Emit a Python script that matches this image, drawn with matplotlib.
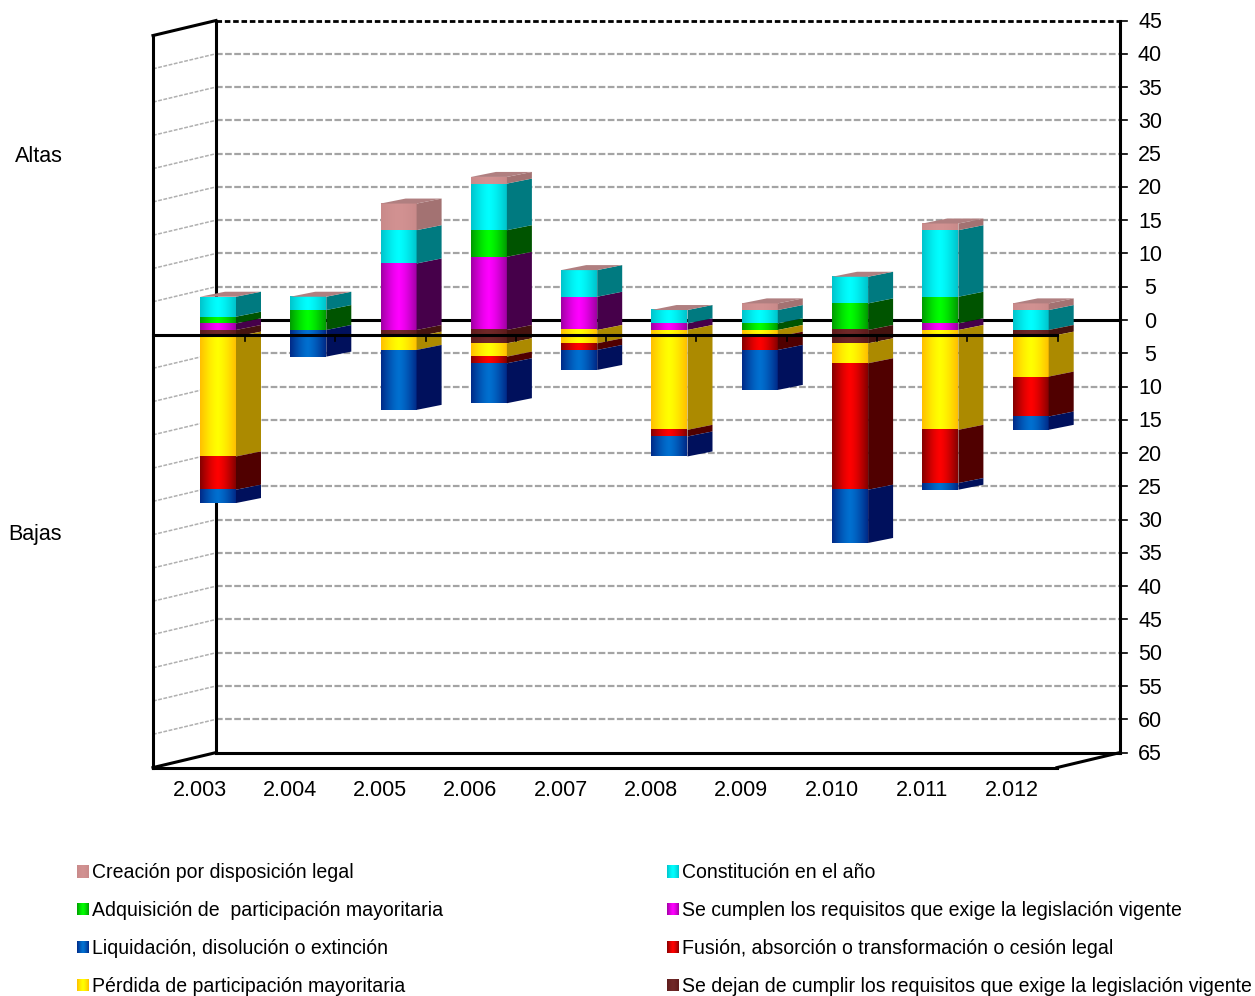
import numpy as np
import matplotlib
matplotlib.use("Agg")
import matplotlib.pyplot as plt
from matplotlib.patches import Polygon

plt.rcParams['font.family'] = ['Liberation Sans', 'DejaVu Sans']

years = ['2.003', '2.004', '2.005', '2.006', '2.007', '2.008', '2.009', '2.010', '2.011', '2.012']

# altas, stacked upward from zero
cumplen = [1, 0, 10, 11, 5, 1, 0, 0, 1, 0]
adquisicion = [1, 3, 0, 4, 0, 0, 1, 4, 4, 0]
constitucion = [3, 2, 5, 7, 4, 2, 2, 4, 10, 3]
creacion = [0, 0, 4, 1, 0, 0, 1, 0, 1, 1]

# bajas, stacked downward from zero
dejan = [1, 0, 1, 2, 0, 0, 0, 2, 0, 1]
perdida = [18, 0, 2, 2, 2, 15, 1, 3, 15, 6]
fusion = [5, 0, 0, 1, 1, 1, 2, 19, 8, 6]
liquidacion = [2, 4, 9, 6, 3, 3, 6, 8, 1, 2]

axis_ticks = [45, 40, 35, 30, 25, 20, 15, 10, 5, 0, 5, 10, 15, 20, 25, 30, 35, 40, 45, 50, 55, 60, 65]

# edge, centre and side colours of the fake 3d bars
PINK = ('#c98a8a', '#d29292', '#a37272')
CYAN = ('#00c4cc', '#00ffff', '#007a80')
GREEN = ('#009c00', '#00ff00', '#005400')
MAGENTA = ('#a000a4', '#ff00ff', '#46004a')
BROWN = ('#5e1c1c', '#702828', '#45130f')
YELLOW = ('#ffc000', '#ffff00', '#ac8a00')
RED = ('#860000', '#ff0000', '#500000')
BLUE = ('#002a88', '#0070d0', '#00105c')

up = [(cumplen, MAGENTA), (adquisicion, GREEN), (constitucion, CYAN), (creacion, PINK)]
down = [(dejan, BROWN), (perdida, YELLOW), (fusion, RED), (liquidacion, BLUE)]

W, H = 1255, 996
STEP_X = 90.3   # pixels between bars
UNIT = 6.655    # pixels per value unit
X0, Y0 = 200, 330


def dx(px):
    return px / STEP_X


def dy(px):
    return px / UNIT


def to_x(px):
    return (px - X0) / STEP_X


def to_y(py):
    return (Y0 - py) / UNIT


fig = plt.figure(figsize=(W / 100, H / 100), dpi=100)
ax = fig.add_axes([0, 0, 1, 1])
ax.axis('off')


def gradient_rect(x0, x1, y0, y1, colors, zorder):
    c = np.array([matplotlib.colors.to_rgb(k) for k in colors])
    t = np.abs(np.linspace(-1, 1, 40)) ** 1.4
    img = c[1] * (1 - t[:, None]) + c[0] * t[:, None]
    ax.imshow(img[None, :, :], extent=[x0, x1, y0, y1], aspect='auto',
              interpolation='bilinear', zorder=zorder)


# walls
back_l, back_r = to_x(216), to_x(1120)
front_l, front_r = to_x(153), to_x(1057)
back_off = dy(10)    # back wall sits above the bar front plane
front_off = dy(-5)
val_back = np.array([45, 40, 35, 30, 25, 20, 15, 10, 5, 0, -5, -10, -15, -20, -25, -30, -35, -40, -45, -50, -55, -60, -65])
grid = dict(color='#a4a4a4', lw=1.6, dashes=(3.0, 1.1), zorder=1)
for v in val_back:
    if v in (45, 0, -65):
        continue
    ax.plot([back_l, back_r], [v + back_off] * 2, **grid)
    ax.plot([front_l, back_l], [v + front_off, v + back_off], color='#b0b0b0', lw=1.1,
            dashes=(2.5, 1), zorder=1)

line = dict(color='black', lw=2.2, solid_capstyle='projecting', zorder=2)
top, bottom = 45, -65
ax.plot([back_l, back_r], [top + back_off] * 2, color='black', lw=2, dashes=(2, 1), zorder=2)
ax.plot([back_l, back_l], [top + back_off, bottom + back_off], **line)
ax.plot([back_r, back_r], [top + back_off, bottom + back_off], **line)
ax.plot([front_l, front_l], [top + front_off, bottom + front_off], **line)
ax.plot([front_l, back_l], [top + front_off, top + back_off], **line)
ax.plot([front_l, back_l], [bottom + front_off, bottom + back_off], **line)
ax.plot([back_l, back_r], [bottom + back_off] * 2, **line)
ax.plot([front_l, front_r], [bottom + front_off] * 2, **line)
ax.plot([front_r, back_r], [bottom + front_off, bottom + back_off], **line)
ax.plot([back_l, back_r], [back_off] * 2, **line)

# right axis ticks and labels
for v, lab in zip(val_back, axis_ticks):
    ax.plot([back_r, back_r + dx(7)], [v + back_off] * 2, color='black', lw=1.2, zorder=2)
    ax.text(to_x(1150), v + back_off - dy(2), str(lab), ha='center', va='center', fontsize=15.5)

# bars
bar_w, side_x, side_y = dx(36), dx(25), dy(5)


def segment(i, a, b, cols):
    gradient_rect(i, i + bar_w, min(a, b), max(a, b), cols, 3)
    r = i + bar_w
    ax.add_patch(Polygon([(r, a), (r + side_x, a + side_y), (r + side_x, b + side_y), (r, b)],
                         fc=cols[2], ec='none', zorder=3))


for i in range(len(years)):
    pos = 0
    for vals, cols in up:
        if vals[i]:
            segment(i, pos, pos + vals[i], cols)
            pos += vals[i]
    neg = 0
    for vals, cols in down:
        if vals[i]:
            segment(i, neg, neg - vals[i], cols)
            neg -= vals[i]
    ax.add_patch(Polygon([(i, pos), (i + bar_w, pos), (i + bar_w + side_x, pos + side_y), (i + side_x, pos + side_y)],
                         fc='#b07f80', ec='none', zorder=3))

# front zero line goes over the bars
ax.plot([front_l, front_r], [front_off] * 2, color='black', lw=2.2, zorder=5)
for i, lab in enumerate(years):
    ax.plot([to_x(245 + STEP_X * i)] * 2, [front_off, front_off - dy(6)], color='black', lw=1.2, zorder=5)
    ax.text(to_x(199.5 + STEP_X * i), to_y(791), lab, ha='center', va='center', fontsize=15.5)

ax.text(to_x(15), to_y(156.5), 'Altas', ha='left', va='center', fontsize=15.5)
ax.text(to_x(8), to_y(534.5), 'Bajas', ha='left', va='center', fontsize=15.5)

# legend
legend_left = [('Creación por disposición legal', PINK), ('Adquisición de  participación mayoritaria', GREEN),
               ('Liquidación, disolución o extinción', BLUE), ('Pérdida de participación mayoritaria', YELLOW)]
legend_right = [('Constitución en el año', CYAN), ('Se cumplen los requisitos que exige la legislación vigente', MAGENTA),
                ('Fusión, absorción o transformación o cesión legal', RED),
                ('Se dejan de cumplir los requisitos que exige la legislación vigente', BROWN)]
rows = [872, 909, 947, 985]
for entries, sx in ((legend_left, 77), (legend_right, 667)):
    for (lab, cols), py in zip(entries, rows):
        gradient_rect(to_x(sx), to_x(sx + 12), to_y(py + 6), to_y(py - 6), cols, 3)
        ax.text(to_x(sx + 15), to_y(py + 1), lab, ha='left', va='center', fontsize=14.05)

ax.set_xlim(to_x(0), to_x(W))
ax.set_ylim(to_y(H), to_y(0))
fig.savefig('out.png', dpi=100)
